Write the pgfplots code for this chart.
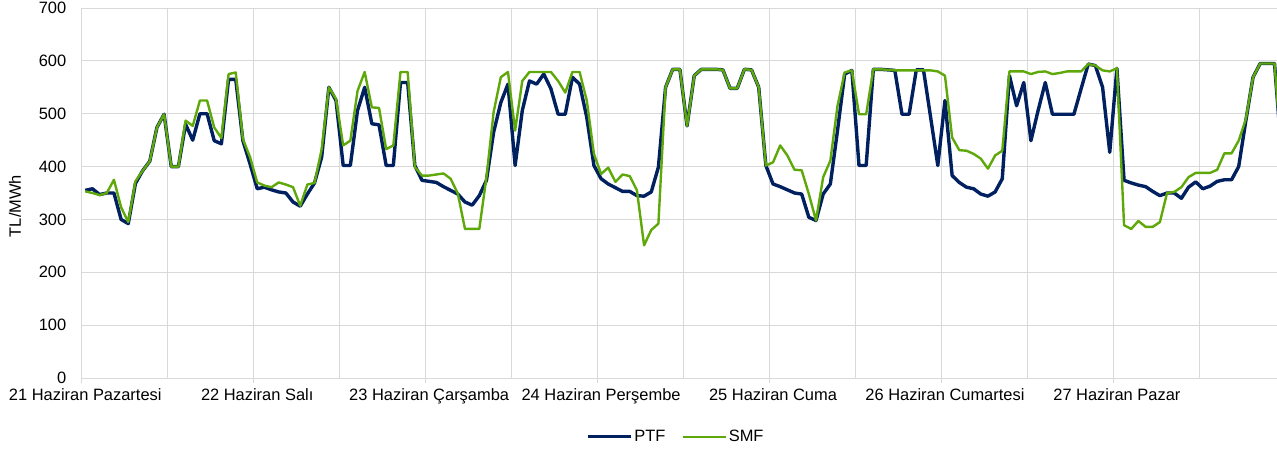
\documentclass[border=0pt]{standalone}
\usepackage{fontspec}
\setmainfont{Liberation Sans}
\usepackage{pgfplots}
\usepackage{pgfplotstable}
\pgfplotsset{compat=1.18}
\definecolor{ptf}{RGB}{0,32,96}
\definecolor{smf}{RGB}{95,168,10}
\definecolor{gridc}{RGB}{217,217,217}

\pgfplotstableread{
i ptf smf
0 355 353
1 358 350
2 347 346
3 350 350
4 350 375
5 300 323
6 292 295
7 368 372
8 392 392
9 410 410
10 474 474
11 499 499
12 400 400
13 400 400
14 480 487
15 450 477
16 500 525
17 500 525
18 449 474
19 443 454
20 565 575
21 565 578
22 449 452
23 405 418
24 358 370
25 361 364
26 356 361
27 352 370
28 350 366
29 333 361
30 325 326
31 348 366
32 369 369
33 418 433
34 550 550
35 525 528
36 402 440
37 402 449
38 506 543
39 550 579
40 481 512
41 479 511
42 402 433
43 402 440
44 559 579
45 559 579
46 402 399
47 374 383
48 372 383
49 370 385
50 362 387
51 355 377
52 348 349
53 333 282
54 327 282
55 345 282
56 374 380
57 465 503
58 521 569
59 556 579
60 402 468
61 506 562
62 562 579
63 556 579
64 575 579
65 547 579
66 499 562
67 499 540
68 569 579
69 556 579
70 493 525
71 402 424
72 377 386
73 367 398
74 360 371
75 353 385
76 353 382
77 345 355
78 344 251
79 352 280
80 399 292
81 550 550
82 584 584
83 584 584
84 477 477
85 572 572
86 584 584
87 584 584
88 584 584
89 583 583
90 548 548
91 548 548
92 584 584
93 583 583
94 550 550
95 402 402
96 367 408
97 362 440
98 356 421
99 350 394
100 348 393
101 304 348
102 298 298
103 348 380
104 367 411
105 468 515
106 575 578
107 582 582
108 402 499
109 402 499
110 584 584
111 584 584
112 583 583
113 582 582
114 499 582
115 499 582
116 583 582
117 583 582
118 493 582
119 402 580
120 525 572
121 383 455
122 370 431
123 361 430
124 358 424
125 348 415
126 344 396
127 352 421
128 377 430
129 572 580
130 515 580
131 559 580
132 449 575
133 506 579
134 559 580
135 499 575
136 499 577
137 499 580
138 499 580
139 547 580
140 594 594
141 591 591
142 550 582
143 427 580
144 586 586
145 374 289
146 369 282
147 365 297
148 362 286
149 353 286
150 345 295
151 350 350
152 350 352
153 340 361
154 361 380
155 371 388
156 358 388
157 363 388
158 372 394
159 375 425
160 375 425
161 400 449
162 487 490
163 569 569
164 595 595
165 595 595
166 595 595
167 420 420
}\datatable

\begin{document}
\begin{tikzpicture}[font=\fontsize{16.5}{19.8}\selectfont]
\begin{axis}[
  at={(81.7bp,72bp)}, anchor=south west,
  width=1195.3bp, height=370bp, scale only axis,
  xmin=-0.5, xmax=166.35, ymin=0, ymax=700,
  axis lines*=left,
  axis line style={draw=gridc, line width=0.8bp},
  ytick={0,100,...,700},
  ymajorgrids,
  major grid style={draw=gridc, line width=0.8bp},
  xtick={0,24,...,144},
  xticklabels={21 Haziran Pazartesi,22 Haziran Salı,23 Haziran Çarşamba,24 Haziran Perşembe,25 Haziran Cuma,26 Haziran Cumartesi,27 Haziran Pazar},
  major tick length=0pt,
  minor xtick={-0.5,11.5,...,167.5},
  xminorgrids,
  minor grid style={draw=gridc, line width=0.8bp},
  minor tick length=0pt,
  extra x ticks={-0.5,23.5,...,167.5},
  extra x tick labels={},
  extra x tick style={grid=none, major tick length=5bp, tick align=outside, tick style={draw=gridc, line width=0.8bp}},
  /pgf/number format/assume math mode=true,
  yticklabel style={xshift=-12bp},
  xticklabel style={yshift=-7bp},
  legend columns=2,
  legend style={at={(axis description cs:0.497,0)}, anchor=center, yshift=-58.7bp, draw=none, fill=none,
    /tikz/every even column/.append style={column sep=14bp}},
  legend image code/.code={\draw[#1] (0bp,0bp) -- (43bp,0bp);},
  clip=true,
]
\addplot[ptf, line width=3.4bp, line join=round, mark=none] table[x=i,y=ptf]{\datatable};
\addlegendentry{PTF}
\addplot[smf, line width=2.4bp, line join=round, mark=none] table[x=i,y=smf]{\datatable};
\addlegendentry{SMF}
\end{axis}
\node[rotate=90, anchor=center] at (15bp,244bp) {TL/MWh};
\pgfresetboundingbox
\path[use as bounding box] (0,0) rectangle (1277bp,450bp);
\end{tikzpicture}
\end{document}
